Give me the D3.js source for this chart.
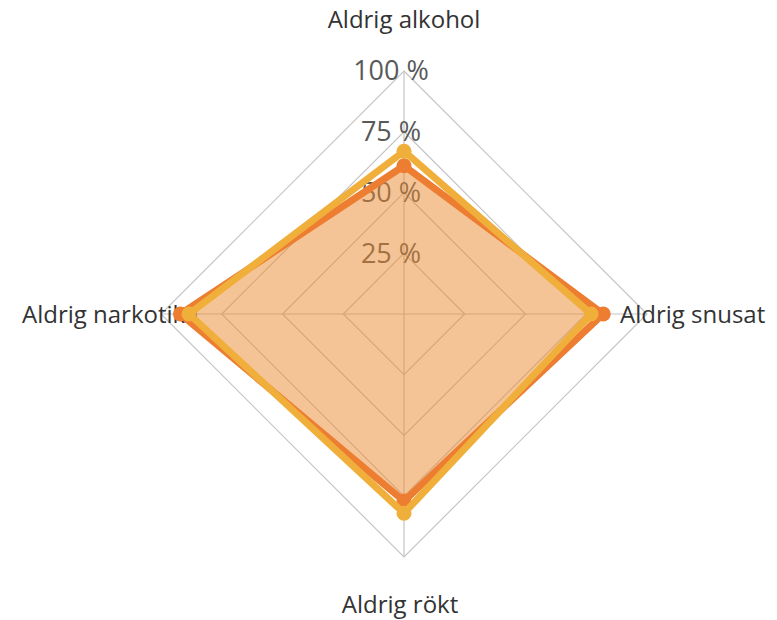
<!DOCTYPE html>
<html>
<head>
<meta charset="utf-8">
<script src="https://cdn.jsdelivr.net/npm/d3@7"></script>
<style>
  body { margin: 0; background: #fff; }
  svg { display: block; }
</style>
</head>
<body>
<svg id="chart"></svg>
<script>
// axes, clockwise from the top
const categories = ['Aldrig alkohol', 'Aldrig snusat', 'Aldrig rökt', 'Aldrig narkotika'];
const seriesA = [0.61, 0.82, 0.77, 0.92];   // orange
const seriesB = [0.67, 0.77, 0.82, 0.885];  // yellow
const ticks = [0.25, 0.5, 0.75, 1];
const tickLabels = ['25 %', '50 %', '75 %', '100 %'];

const width = 777, height = 620;
const cx = 404, cy = 314, radius = 243;
const font = "'Open Sans', 'Noto Sans', sans-serif";

const svg = d3.select('#chart')
    .attr('width', width)
    .attr('height', height);

const g = svg.append('g')
    .attr('transform', `translate(${cx},${cy})`);

const angle = d3.scaleBand()
    .domain(categories)
    .range([0, 2 * Math.PI])
    .align(0)
    .padding(0);
const r = d3.scaleLinear().domain([0, 1]).range([0, radius]);

const pt = (cat, v) => {
  const a = angle(cat);
  return [Math.sin(a) * r(v), -Math.cos(a) * r(v)];
};

// grid rings
ticks.forEach(t => {
  g.append('polygon')
      .attr('points', categories.map(c => pt(c, t).join(',')).join(' '))
      .attr('fill', 'none')
      .attr('stroke', '#c4c4c4')
      .attr('stroke-width', 1.2);
});

// spokes
categories.forEach(c => {
  const [x, y] = pt(c, 1);
  g.append('line')
      .attr('x1', 0).attr('y1', 0)
      .attr('x2', x).attr('y2', y)
      .attr('stroke', '#c4c4c4')
      .attr('stroke-width', 1.2);
});

// tick labels
g.selectAll('.tick-label')
  .data(ticks)
  .join('text')
    .attr('class', 'tick-label')
    .attr('x', -13)
    .attr('y', d => -r(d))
    .attr('dy', '0.35em')
    .attr('text-anchor', 'middle')
    .style('font-family', font)
    .style('font-size', '27px')
    .style('fill', '#595959')
    .text((d, i) => tickLabels[i]);

// category labels
const labelPos = [
  { x: 0, y: -294, anchor: 'middle' },
  { x: 216, y: 1, anchor: 'start' },
  { x: -4, y: 291, anchor: 'middle' },
  { x: -382, y: 1, anchor: 'start' }
];
g.selectAll('.cat-label')
  .data(categories)
  .join('text')
    .attr('class', 'cat-label')
    .attr('x', (d, i) => labelPos[i].x)
    .attr('y', (d, i) => labelPos[i].y)
    .attr('dy', '0.35em')
    .attr('text-anchor', (d, i) => labelPos[i].anchor)
    .style('font-family', font)
    .style('font-size', '24px')
    .style('fill', '#333')
    .text(d => d);

const line = d3.line().curve(d3.curveLinearClosed);

// shaded area
g.append('path')
    .attr('d', line(categories.map((c, i) => pt(c, seriesA[i]))))
    .attr('fill', 'rgba(236,138,46,0.5)')
    .attr('stroke', 'none');

const series = [
  { values: seriesA, color: '#ed7d31' },
  { values: seriesB, color: '#f0af3a' }
];

series.forEach(s => {
  const pts = categories.map((c, i) => pt(c, s.values[i]));
  g.append('path')
      .attr('d', line(pts))
      .attr('fill', 'none')
      .attr('stroke', s.color)
      .attr('stroke-width', 7)
      .attr('stroke-linejoin', 'round');
  g.selectAll(null)
    .data(pts)
    .join('circle')
      .attr('cx', d => d[0])
      .attr('cy', d => d[1])
      .attr('r', 7.5)
      .attr('fill', s.color);
});
</script>
</body>
</html>
